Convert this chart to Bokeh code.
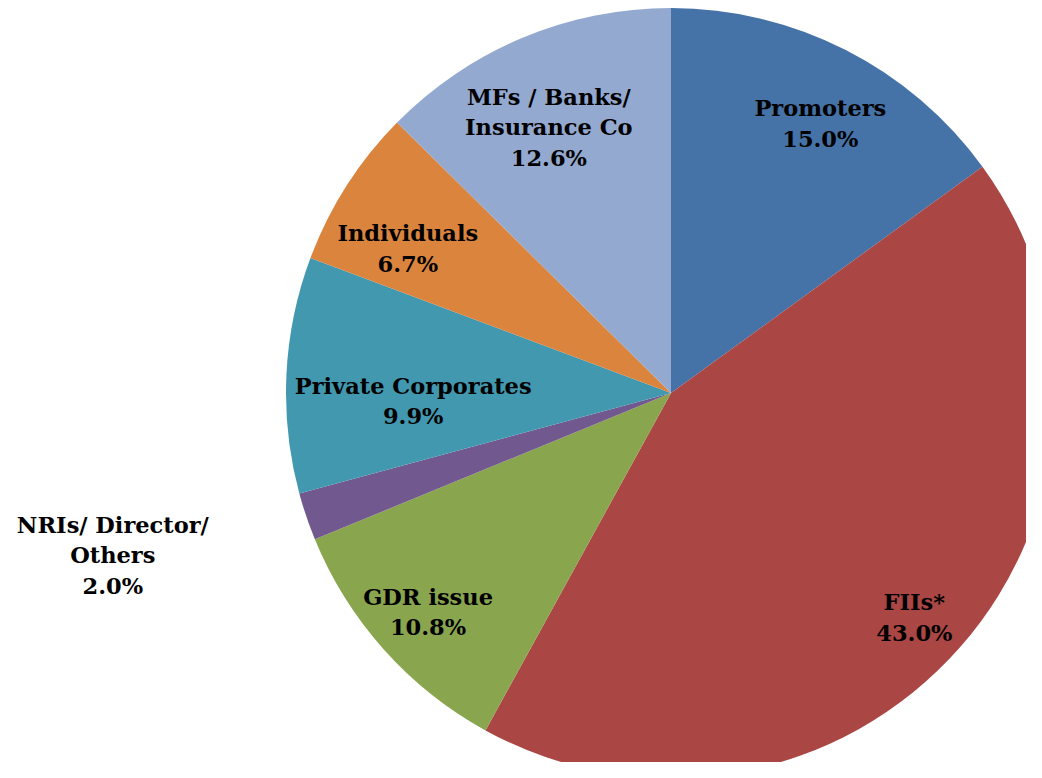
import numpy as np
from bokeh.plotting import figure
from bokeh.models import Range1d, ColumnDataSource
from bokeh.core.properties import value
from bokeh.embed import file_html
from bokeh.resources import INLINE

# ---- data ----
categories = ["Promoters", "FIIs*", "GDR issue", "NRIs/ Director/\nOthers",
              "Private Corporates", "Individuals", "MFs / Banks/\nInsurance Co"]
shares = [15.0, 43.0, 10.8, 2.0, 9.9, 6.7, 12.6]
colors = ["#4572A7", "#AA4643", "#89A54E", "#71588F", "#4198AF", "#DB843D", "#93A9CF"]

# ---- layout (screen-pixel style coordinates: data y = -screen y) ----
W, H = 1026, 762
cx, cy, R = 670.5, -392.5, 385
label_r = [0.80, 0.86, 0.85, 1.51, 0.67, 0.78, 0.76]
label_da = [-2.0, -1.3, 0.3, -2.5, 4.5, 3.8, 2.0]  # degrees tweak

vals = np.array(shares)
frac = vals / vals.sum()
ends = np.pi / 2 - 2 * np.pi * np.cumsum(frac)
starts = ends + 2 * np.pi * frac
mids = (starts + ends) / 2 + np.radians(label_da)

src = ColumnDataSource(dict(start=ends, end=starts, color=colors))

p = figure(width=W, height=H, output_backend="svg", toolbar_location=None,
           x_range=Range1d(0, W), y_range=Range1d(-H, 0),
           min_border=0, outline_line_color=None)
p.axis.visible = False
p.grid.visible = False
p.background_fill_color = "white"

p.wedge(x=cx, y=cy, radius=R, start_angle="start", end_angle="end",
        color="color", line_color=None, source=src)

lx = cx + R * np.array(label_r) * np.cos(mids)
ly = cy + R * np.array(label_r) * np.sin(mids)
texts = [f"{c}\n{v:.1f}%" for c, v in zip(categories, shares)]
p.text(x=lx, y=ly, text=texts, text_align="center", text_baseline="middle",
       text_font=value("DejaVu Serif"), text_font_style="bold",
       text_font_size="22.5px", text_line_height=1.17, text_color="black")

open("out.html", "w").write(file_html(p, INLINE))
